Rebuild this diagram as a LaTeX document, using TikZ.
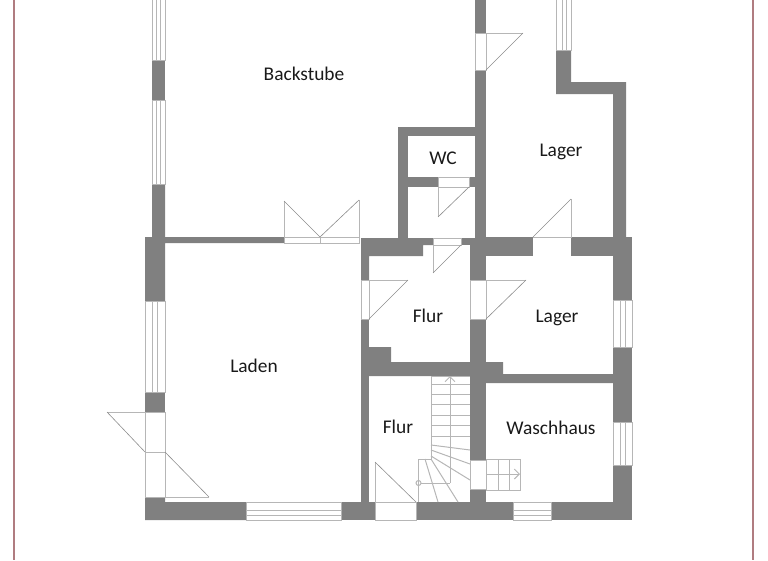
\documentclass[tikz,border=0pt]{standalone}
\usepackage{fontspec}
\setmainfont{Carlito}
\usetikzlibrary{arrows.meta}

\definecolor{wallgray}{RGB}{128,128,128}
\definecolor{linegray}{RGB}{182,182,182}
\definecolor{sheetred}{RGB}{176,124,128}

\tikzset{
	wall/.style = {fill = wallgray, draw = none},
	thin line/.style = {draw = linegray, line width = 1pt},
	leaf/.style = {draw = black!45, line width = 0.6pt},
	room/.style = {font = \fontsize{19.4}{22}\selectfont, text = black!90, inner sep = 0pt}
}

\begin{document}
\begin{tikzpicture}[x=1pt, y=-1pt]
		\useasboundingbox (0,0) rectangle (768,560);
		
		%sheet edges
		\draw [sheetred, line width = 1.5pt] (14,0) -- (14,560);
		\draw [sheetred, line width = 1.5pt] (753,0) -- (753,560);
		
		%outer walls
		\fill [wall] (152,60) rectangle (165,100);
		\fill [wall] (152,184) -- (165,184) -- (165,237) -- (284,237) -- (284,243) -- (165,243) -- (165,301) -- (145,301) -- (145,237) -- (152,237) -- cycle;
		\fill [wall] (145,392) rectangle (165,412);
		\fill [wall] (145,497) -- (165,497) -- (165,502) -- (246,502) -- (246,520) -- (145,520) -- cycle;
		\fill [wall] (341,502) rectangle (375,520);
		\fill [wall] (416,502) rectangle (513,520);
		\fill [wall] (551,502) rectangle (632,520);
		\fill [wall] (613,237) rectangle (632,300);
		\fill [wall] (613,347) rectangle (632,422);
		\fill [wall] (613,465) rectangle (632,520);
		\fill [wall] (556,50) -- (571,50) -- (571,82) -- (626,82) -- (626,237) -- (613,237) -- (613,94) -- (556,94) -- cycle;
		
		%inner walls
		\fill [wall] (475,0) rectangle (486,33);
		\fill [wall] (475,70) rectangle (486,280);
		\fill [wall] (470,238) rectangle (486,280);
		\fill [wall] (470,319) rectangle (486,460);
		\fill [wall] (470,489) rectangle (486,502);
		\fill [wall] (361,238) -- (433,238) -- (433,245) -- (423,245) -- (423,256) -- (369,256) -- (369,280) -- (361,280) -- cycle;
		\fill [wall] (361,319) rectangle (369,502);
		\fill [wall] (461,238) rectangle (472,245);
		\fill [wall] (486,237) rectangle (533,256);
		\fill [wall] (571,237) rectangle (632,256);
		\fill [wall] (398,127) rectangle (475,136);
		\fill [wall] (398,127) rectangle (408,238);
		\fill [wall] (408,177) rectangle (438,187);
		\fill [wall] (469,177) rectangle (475,187);
		\fill [wall] (369,347) -- (391,347) -- (391,362) -- (470,362) -- (470,376) -- (369,376) -- cycle;
		\fill [wall] (486,362) -- (503,362) -- (503,374) -- (613,374) -- (613,383) -- (486,383) -- cycle;
		
		%windows
		\foreach \ya/\yb in {-2/60, 100/184}
			\draw [thin line] (152,\ya) rectangle (165,\yb) (156.5,\ya) -- (156.5,\yb) (160,\ya) -- (160,\yb);
		\draw [thin line] (145,301) rectangle (165,392) (152,301) -- (152,392) (157,301) -- (157,392);
		\draw [thin line] (556,-2) rectangle (571,50) (562,-2) -- (562,50) (566,-2) -- (566,50);
		\foreach \ya/\yb in {300/347, 422/465}
			\draw [thin line] (613,\ya) rectangle (632,\yb) (620,\ya) -- (620,\yb) (625,\ya) -- (625,\yb);
		\foreach \xa/\xb in {246/341, 513/551}
			\draw [thin line] (\xa,502) rectangle (\xb,520) (\xa,510) -- (\xb,510) (\xa,515) -- (\xb,515);
		
		%doors
		\draw [thin line] (284,237) rectangle (359,243) (320,237) -- (320,243);
		\draw [thin line] (284,237) -- (284,201) (359,237) -- (359,200);
		\draw [leaf] (284,201) -- (320,237) -- (359,200);
		
		\draw [thin line] (475,33) rectangle (486,70) (486,33) -- (523,33);
		\draw [leaf] (523,33) -- (486,70);
		
		\draw [thin line] (438,177) rectangle (469,187) (438,187) -- (438,217);
		\draw [leaf] (438,217) -- (469,187);
		
		\draw [thin line] (433,238) rectangle (461,245) (433,245) -- (433,273);
		\draw [leaf] (433,273) -- (461,245);
		
		\draw [thin line] (533,237) -- (571,237) -- (571,199);
		\draw [leaf] (571,199) -- (533,237);
		
		\draw [thin line] (361,280) rectangle (369,319) (369,280) -- (408,280);
		\draw [leaf] (408,280) -- (369,319);
		
		\draw [thin line] (470,280) rectangle (486,319) (486,280) -- (526,280);
		\draw [leaf] (526,280) -- (486,319);
		
		\draw [thin line] (145,412) rectangle (165,497) (145,452) -- (165,452) (145,412) -- (107,412) (165,497) -- (209,497);
		\draw [leaf] (107,412) -- (145,452) (165,452) -- (209,497);
		
		\draw [thin line] (375,502) rectangle (416,520) (375,462) -- (375,502);
		\draw [leaf] (375,462) -- (416,502);
		
		%stairs
		\draw [thin line] (431,376) -- (431,459) -- (418,459) -- (418,502);
		\draw [thin line] (431,376) -- (470,376);
		\foreach \y in {384,394,404,415,425,436}
			\draw [thin line] (431,\y) -- (470,\y);
		\draw [thin line] (431,445) -- (470,450);
		\draw [thin line] (431,450) -- (470,464);
		\draw [thin line] (431,456) -- (470,480);
		\draw [thin line] (425,459) -- (438,502);
		\draw [thin line] (431,459) -- (458,502);
		\draw [thin line, -{Straight Barb[length=5pt, width=10pt]}] (450,483) -- (450,376);
		\draw [thin line] (421,483) -- (450,483);
		\draw [thin line] (418.5,483) circle [radius = 2.5];
		
		\draw [thin line] (470,460) rectangle (486,489);
		\draw [thin line] (486,459) -- (520,459) -- (520,490) -- (486,490);
		\draw [thin line] (498,459) -- (498,490) (509,459) -- (509,490);
		\draw [thin line, -{Straight Barb[length=5pt, width=10pt]}] (486,474) -- (520,474);
		
		%room names
		\node [room] (backstube) at (304,74) {Backstube};
		\node [room] (wc) at (443,158.5) {WC};
		\node [room] (lager top) at (561,152) {Lager};
		\node [room] (flur top) at (428,316) {Flur};
		\node [room] (lager bottom) at (557,318) {Lager};
		\node [room] (laden) at (254,366) {Laden};
		\node [room] (flur bottom) at (398,427) {Flur};
		\node [room] (waschhaus) at (551,428) {Waschhaus};
	\end{tikzpicture}
\end{document}
